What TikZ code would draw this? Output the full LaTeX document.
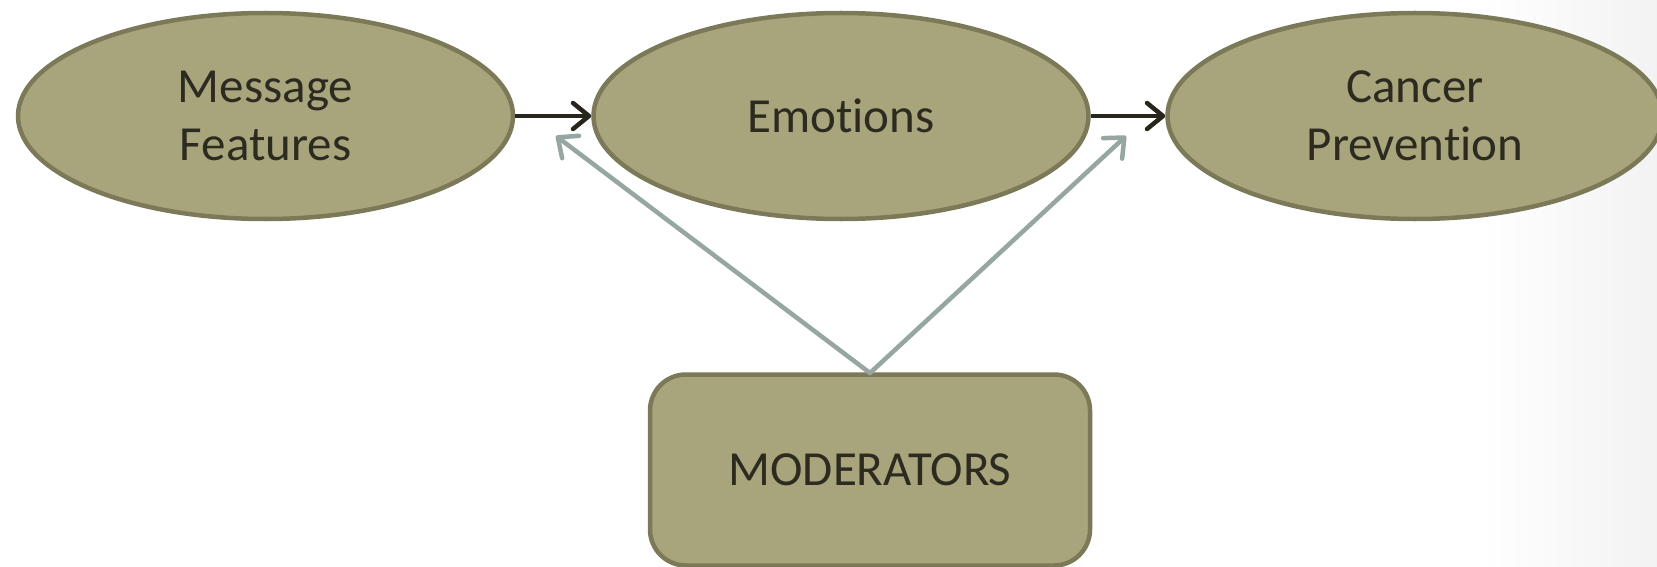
\documentclass[tikz,border=0pt]{standalone}
\usepackage{fontspec}
\setmainfont{Carlito}[Ligatures={NoCommon}]
\usetikzlibrary{shapes.geometric,arrows.meta}
\definecolor{olivefill}{RGB}{168,165,124}
\definecolor{oliveline}{RGB}{124,121,88}
\definecolor{textdark}{RGB}{45,42,32}
\definecolor{arrowdark}{RGB}{40,37,28}
\definecolor{modgray}{RGB}{150,166,160}
\tikzset{
  oval/.style={ellipse, draw=oliveline, fill=olivefill, line width=4.5pt, inner sep=0pt,
    minimum width=495pt, minimum height=206pt, align=center, text=textdark,
    font=\fontsize{49}{58}\selectfont},
  modbox/.style={rectangle, rounded corners=36pt, draw=oliveline, fill=olivefill, line width=4.5pt,
    minimum width=440pt, minimum height=191pt, text=textdark, font=\fontsize{49}{58}\selectfont},
  mainarrow/.style={draw=arrowdark, line width=4.5pt, -{Straight Barb[length=16pt,width=26pt,round]}},
  modarrow/.style={draw=modgray, line width=4.5pt, line cap=round, line join=round,
    -{Straight Barb[length=16pt,width=28pt,round]}}
}
\begin{document}
\begin{tikzpicture}[x=1pt,y=-1pt]
\clip (0,0) rectangle (1657,567);
\fill[white] (0,0) rectangle (1657,567);
\shade[left color=white, right color=black!5] (1480,0) rectangle (1657,567);
\node[oval] (msg) at (265.5,116) {Message\\Features};
\node[oval] (emo) at (841,116) {Emotions};
\node[oval] (can) at (1415,116) {Cancer\\Prevention};
\node[modbox] (mod) at (870,470) {MODERATORS};
\draw[mainarrow] (msg.east) -- (emo.west);
\draw[mainarrow] (emo.east) -- (can.west);
\coordinate (tipL) at (556,136);
\coordinate (tipR) at (1126,136);
\coordinate (apex) at (870,373);
\draw[modarrow] (apex) -- (tipL);
\draw[modarrow] (apex) -- (tipR);
\end{tikzpicture}
\end{document}
